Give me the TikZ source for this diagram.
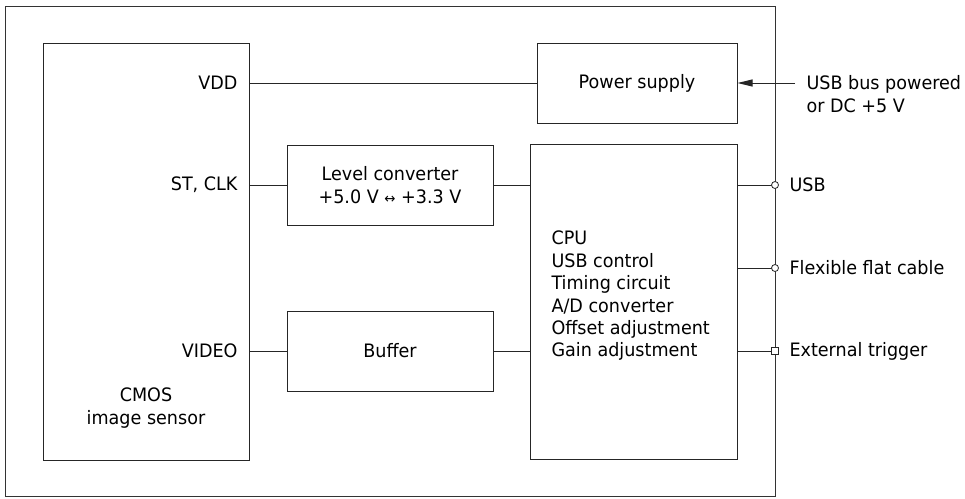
\documentclass[tikz,border=0pt]{standalone}
\usepackage{fontspec}
\setmainfont[FakeStretch=0.95]{DejaVu Sans}
\usetikzlibrary{arrows.meta}
\begin{document}
\begin{tikzpicture}[x=1pt,y=-1pt,
  line width=1pt, draw=black!85,
  box/.style={draw, line width=1pt, inner sep=0},
  lbl/.style={inner sep=0, font=\fontsize{18.5}{22.4}\selectfont},
  port/.style={circle, draw, fill=white, line width=0.8pt, inner sep=0, minimum size=7pt},
  sqport/.style={rectangle, draw, fill=white, line width=0.8pt, inner sep=0, minimum size=6.5pt}]
\useasboundingbox (0,0) rectangle (965,498);
\draw[line width=1pt, black!80] (5,6) rectangle (775,496);
% boxes
\node[box, minimum width=206pt, minimum height=417pt] (cmos) at (146,251.5) {};
\node[box, minimum width=200pt, minimum height=80pt] (power) at (637,83) {};
\node[lbl] (powertxt) at (637,83) {Power supply};
\node[box, minimum width=206pt, minimum height=80pt] (level) at (390,185) {};
\node[lbl, align=center] (leveltxt) at (390,185) {Level converter\\+5.0 V {\fontsize{14}{22.4}\selectfont ↔} +3.3 V};
\node[box, minimum width=206pt, minimum height=80pt] (buffer) at (390,351) {};
\node[lbl] (buffertxt) at (390,351) {Buffer};
\node[box, minimum width=207pt, minimum height=315pt] (cpu) at (633.5,302) {};
\node[lbl, align=left, anchor=west] (cputxt) at (551,296) {CPU\\USB control\\Timing circuit\\A/D converter\\Offset adjustment\\Gain adjustment};
\node[lbl, align=center] (cmostxt) at (146,408) {CMOS\\image sensor};
% pin labels
\node[lbl, anchor=east] (vdd) at (238,83) {VDD};
\node[lbl, anchor=east] (stclk) at (238,185) {ST, CLK};
\node[lbl, anchor=east] (video) at (238,351) {VIDEO};
% connectors
\draw (power.west -| cmos.east) -- (power.west);
\draw (level.west -| cmos.east) -- (level.west);
\draw (level.east) -- (level.east -| cpu.west);
\draw (buffer.west -| cmos.east) -- (buffer.west);
\draw (buffer.east) -- (buffer.east -| cpu.west);
% external
\coordinate (ext) at (795,83);
\draw[-{Triangle[length=15pt,width=7pt]}] (ext) -- (power.east);
\node[lbl, align=left, anchor=west] (exttxt) at (806,94) {USB bus powered\\or DC +5 V};
\coordinate (pusb) at (775,185);
\coordinate (pffc) at (775,268);
\coordinate (ptrg) at (775,351);
\draw (cpu.east |- pusb) -- (pusb);
\draw (cpu.east |- pffc) -- (pffc);
\draw (cpu.east |- ptrg) -- (ptrg);
\node[port] (cusb) at (pusb) {};
\node[port] (cffc) at (pffc) {};
\node[sqport] (ctrg) at (ptrg) {};
\node[lbl, anchor=west] (usbtxt) at (789,185) {USB};
\node[lbl, anchor=west] (ffctxt) at (789,268) {Flexible flat cable};
\node[lbl, anchor=west] (trgtxt) at (789,351) {External trigger};
\end{tikzpicture}
\end{document}
